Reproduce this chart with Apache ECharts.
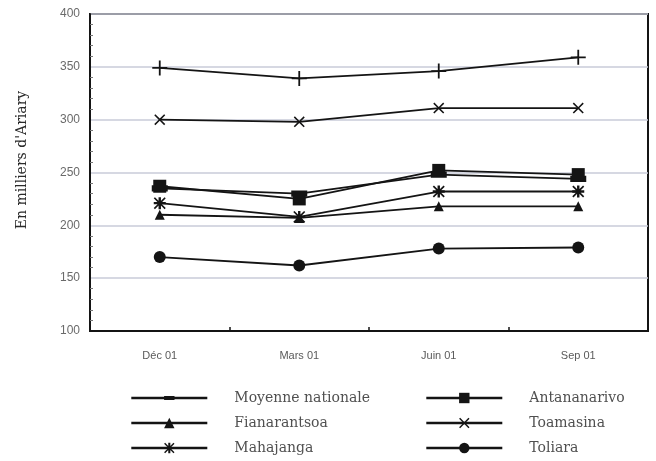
<!DOCTYPE html>
<html>
<head>
<meta charset="utf-8">
<script src="https://cdn.jsdelivr.net/npm/echarts@6/dist/echarts.min.js"></script>
<style>
  html, body { margin: 0; padding: 0; background: #fff; }
  #chart { width: 656px; height: 461px; }
</style>
</head>
<body>
<div id="chart"></div>
<script>
// Trimestres observés
const categories = ['Déc 01', 'Mars 01', 'Juin 01', 'Sep 01'];

// Salaires moyens, en milliers d'Ariary
const antsiranana   = [349, 339, 346, 359];
const toamasina     = [300, 298, 311, 311];
const antananarivo  = [237, 225, 252, 248];
const moyenne       = [235, 230, 248, 244];
const mahajanga     = [221, 208, 232, 232];
const fianarantsoa  = [210, 207, 218, 218];
const toliara       = [170, 162, 178, 179];

const yTicks = { min: 100, max: 400, step: 50 };

// Marqueurs dessinés en tracé
const SYM_PLUS  = 'path://M8.8,0H11.2V20H8.8Z M0,8.8H20V11.2H0Z';
const SYM_CROSS = 'path://M2,0L10,8L18,0L20,2L12,10L20,18L18,20L10,12L2,20L0,18L8,10L0,2Z';
const SYM_STAR  = 'path://M8,0H12V20H8Z M0,8H20V12H0Z M2,0L10,8L18,0L20,2L12,10L20,18L18,20L10,12L2,20L0,18L8,10L0,2Z';
// tiret horizontal dans une boîte carrée (deux points quasi nuls fixent l'emprise)
const SYM_DASH  = 'path://M0,0L0.01,0L0,0.01Z M0,6H20V14H0Z M20,20L19.99,20L20,19.99Z';

const ink = '#141414';

function line(name, data, symbol, size) {
  return {
    name, type: 'line', data, symbol, symbolSize: size,
    symbolKeepAspect: true,
    showSymbol: true,
    lineStyle: { color: ink, width: 1.8 },
    itemStyle: { color: ink },
    emphasis: { disabled: true },
    z: 3
  };
}

const legendText = {
  fontFamily: 'DejaVu Serif', fontSize: 14, color: '#505050',
  rich: { g: { width: 22 } }
};

function legendColumn(left, names) {
  return {
    left, top: 391, orient: 'vertical', padding: 0,
    itemWidth: 76, itemHeight: 13, itemGap: 11,
    data: names,
    formatter: n => '{g|}' + n,
    textStyle: legendText,
    lineStyle: { width: 2.6 }
  };
}

const chart = echarts.init(document.getElementById('chart'), null, { renderer: 'canvas' });
chart.setOption({
  animation: false,
  backgroundColor: '#fff',
  grid: {
    left: 90, right: 8, top: 14, bottom: 130,
    show: true, borderColor: ink, borderWidth: 2, backgroundColor: 'transparent'
  },
  xAxis: {
    type: 'category', data: categories, boundaryGap: true,
    axisLine: { lineStyle: { color: ink, width: 2 } },
    axisTick: { show: true, inside: true, length: 4, lineStyle: { color: ink, width: 1.5 } },
    axisLabel: { fontFamily: 'Liberation Sans', fontSize: 11, color: '#5a5a5a', margin: 19 },
    splitLine: { show: false }
  },
  yAxis: {
    type: 'value', min: yTicks.min, max: yTicks.max, interval: yTicks.step,
    axisLine: { show: true, lineStyle: { color: ink, width: 2 } },
    axisTick: { show: false, inside: true },
    minorTick: { show: true, splitNumber: 5, length: 3, lineStyle: { color: '#777' } },
    axisLabel: { fontFamily: 'Liberation Sans', fontSize: 12, color: '#6a6a6a', margin: 10 },
    splitLine: { show: true, lineStyle: { color: '#c8cbd8', width: 1.5 } }
  },
  legend: [
    legendColumn(130, ['Moyenne nationale', 'Fianarantsoa', 'Mahajanga']),
    legendColumn(425, ['Antananarivo', 'Toamasina', 'Toliara'])
  ],
  graphic: [{
    type: 'text', x: 22, y: 160, rotation: Math.PI / 2,
    style: {
      text: "En milliers d'Ariary", fontFamily: 'DejaVu Serif', fontSize: 14,
      fill: '#2a2a2a', align: 'center', verticalAlign: 'middle'
    }
  }],
  series: [
    line('Antsiranana', antsiranana, SYM_PLUS, 15),
    line('Toamasina', toamasina, SYM_CROSS, 11),
    line('Antananarivo', antananarivo, 'rect', 13),
    line('Moyenne nationale', moyenne, SYM_DASH, 16),
    line('Mahajanga', mahajanga, SYM_STAR, 12),
    line('Fianarantsoa', fianarantsoa, 'triangle', 10),
    line('Toliara', toliara, 'circle', 12)
  ]
});
</script>
</body>
</html>
